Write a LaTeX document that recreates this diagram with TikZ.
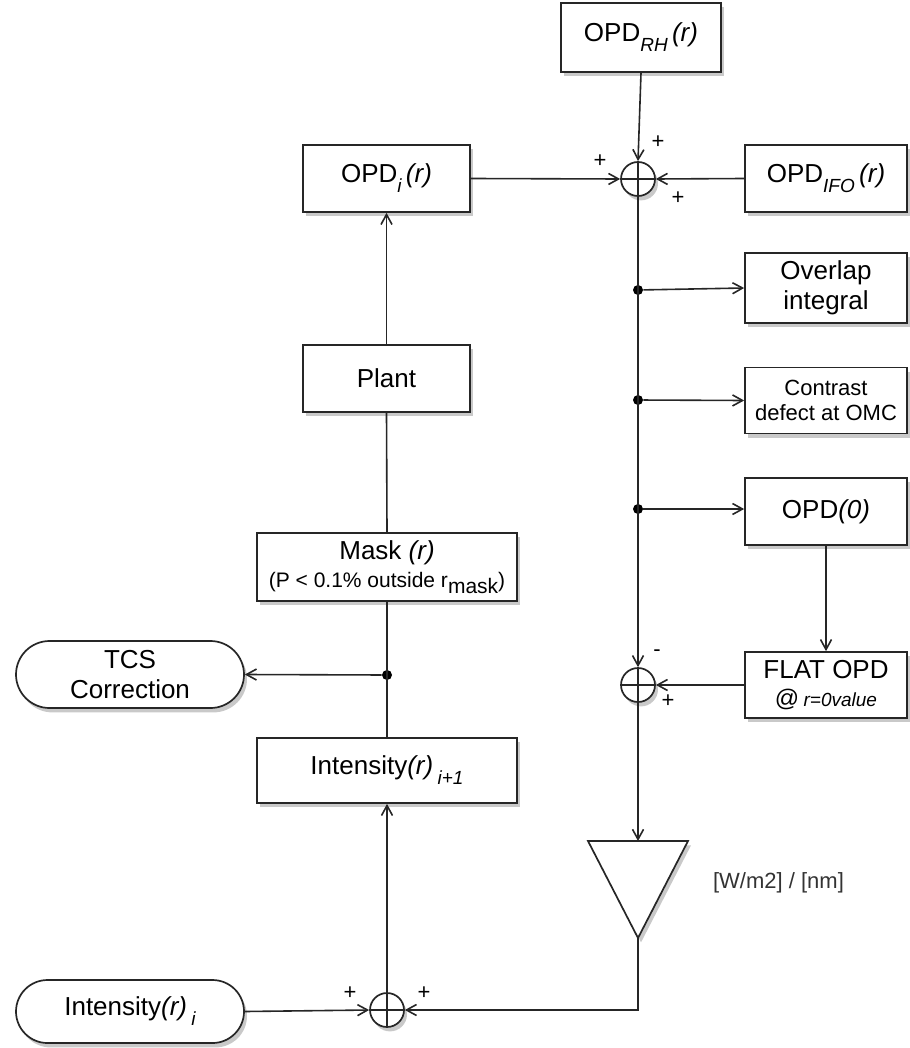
\documentclass[tikz,border=0pt]{standalone}
\usepackage{fontspec}
\setmainfont{Liberation Sans}
\usetikzlibrary{arrows.meta,shadows,shapes.misc}
\newcommand{\lowsub}[1]{\raisebox{-5pt}{\fontsize{9.5}{10}\selectfont\itshape #1}}
\tikzset{
  wire/.style={black!85,line width=0.8pt},
  flow/.style={wire,-{Straight Barb[length=5pt,width=5.5pt]}},
  softshadow/.style={drop shadow={shadow xshift=1.5pt,shadow yshift=-2.2pt,opacity=0.3,fill=black!70}},
  block/.style={draw=black!85,line width=0.85pt,fill=white,softshadow,rectangle,
                minimum height=34pt,inner sep=2pt,align=center,font=\fontsize{13}{15}\selectfont},
  terminal/.style={block,rounded rectangle,minimum width=118pt},
  summer/.style={circle,draw=black!85,line width=0.85pt,fill=white,softshadow,
                 minimum size=17pt,inner sep=0pt,
                 path picture={\draw[line width=0.7pt,black!85]
                   (path picture bounding box.north)--(path picture bounding box.south)
                   (path picture bounding box.west)--(path picture bounding box.east);}},
  junction/.style={circle,fill=black,minimum size=5pt,inner sep=0pt},
  sign/.style={font=\fontsize{11}{12}\selectfont,inner sep=0pt},
  small/.style={font=\fontsize{11}{12.5}\selectfont},
}

\begin{document}
\begin{tikzpicture}[x=0.5pt,y=-0.5pt]
  \path[use as bounding box] (0,0) rectangle (909,1048);

  % right column: OPD sum and outputs
  \node[block,minimum width=80pt,minimum height=34.5pt] (rhbox) at (641,37.5)
    {OPD\lowsub{RH}\,\textit{(r)}};
  \node[summer] (sumtop) at (638,179) {};
  \node[block,minimum width=81pt,minimum height=33.5pt] (ifobox) at (826,178.5)
    {OPD\lowsub{IFO}\,\textit{(r)}};
  \node[block,minimum width=81pt,minimum height=35pt] (overlap) at (826,288)
    {Overlap\\integral};
  \node[block,small,minimum width=81pt,minimum height=33pt] (contrast) at (826,400.5)
    {Contrast\\defect at OMC};
  \node[block,minimum width=81pt,minimum height=33.5pt] (opdzero) at (826,511.5)
    {OPD\textit{(0)}};
  \node[block,minimum width=81pt,minimum height=33pt] (flatopd) at (826,685)
    {FLAT OPD\\[-1pt]{\fontsize{12}{13}\selectfont @}\,{\fontsize{9.5}{11}\selectfont\itshape r=0value}};
  \node[summer] (summid) at (638,685) {};
  \node[junction] (tap1) at (638,290) {};
  \node[junction] (tap2) at (638,400) {};
  \node[junction] (tap3) at (638,509) {};
  \coordinate (gaintop) at (638,841);
  \coordinate (gainapex) at (638,938);
  \draw[wire,line width=0.85pt,fill=white,softshadow] (588,841) -- (688,841) -- (gainapex) -- cycle;
  \node[small,text=black!80,anchor=west] (gainlabel) at (706,883) {[W/m2] / [nm]};

  % left column: plant loop
  \node[block,minimum width=83.5pt,minimum height=33.5pt] (opdi) at (386.5,178.5)
    {OPD\lowsub{i}\,\textit{(r)}};
  \node[block,minimum width=83.5pt,minimum height=33.5pt] (plant) at (386.5,378.5) {Plant};
  \node[block,minimum width=130pt,minimum height=34pt] (mask) at (387,567)
    {Mask \textit{(r)}\\[-1pt]{\fontsize{10.5}{12}\selectfont (P < 0.1\% outside r\raisebox{-3pt}{mask})}};
  \node[junction] (tcstap) at (387,675) {};
  \node[terminal,minimum height=33.5pt] (tcs) at (130,674.5) {TCS\\Correction};
  \node[block,minimum width=130pt,minimum height=32.5pt] (intnext) at (387,770.5)
    {Intensity\textit{(r)}\,\lowsub{i+1}};
  \node[summer] (sumbot) at (387,1010) {};
  \node[terminal,minimum height=31.5pt] (intcur) at (130,1011.5)
    {Intensity\textit{(r)}\,\lowsub{i}};

  % signs at the summing points
  \node[sign] at (600,161) {+};
  \node[sign] at (658,142) {+};
  \node[sign] at (678,198) {+};
  \node[sign] at (657,653) {-};
  \node[sign] at (668,701) {+};
  \node[sign] at (350,993) {+};
  \node[sign] at (424,993) {+};

  % connectors
  \draw[flow] (rhbox.south) -- (sumtop.north);
  \draw[flow] (opdi.east) -- (sumtop.west);
  \draw[flow] (ifobox.west) -- (sumtop.east);
  \draw[flow] (sumtop.south) -- (summid.north);
  \draw[flow] (tap1) -- (overlap.west);
  \draw[flow] (tap2) -- (contrast.west);
  \draw[flow] (tap3) -- (opdzero.west |- tap3);
  \draw[flow] (opdzero.south) -- (flatopd.north);
  \draw[flow] (flatopd.west) -- (summid.east);
  \draw[flow] (summid.south) -- (gaintop);
  \draw[flow] (gainapex) |- (sumbot.east);
  \draw[flow] (intcur.east) -- (sumbot.west);
  \draw[flow] (sumbot.north) -- (intnext.south);
  \draw[wire] (intnext.north) -- (mask.south);
  \draw[flow] (tcstap) -- (tcs.east);
  \draw[wire] (mask.north) -- (plant.south);
  \draw[flow] (plant.north) -- (opdi.south);
\end{tikzpicture}
\end{document}
